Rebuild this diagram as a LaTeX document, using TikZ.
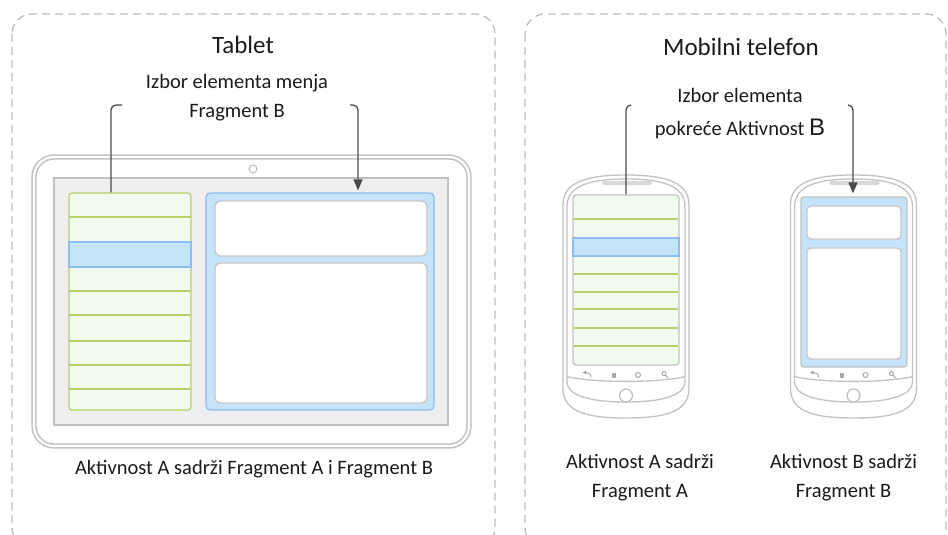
\documentclass[tikz,border=0pt]{standalone}
\usepackage{fontspec}
\setmainfont{Carlito}
\newfontfamily\arialfont{Liberation Sans}
\usetikzlibrary{arrows.meta}

\definecolor{dashgray}{HTML}{BDBDBD}
\definecolor{devline}{HTML}{C2C2C2}
\definecolor{bezelfill}{HTML}{EFEFEF}
\definecolor{bezelline}{HTML}{C0C0C0}
\definecolor{listfill}{HTML}{F1FAEE}
\definecolor{listline}{HTML}{B3D26A}
\definecolor{selfill}{HTML}{C5E3F9}
\definecolor{selline}{HTML}{8DBDF2}
\definecolor{cardline}{HTML}{C8C8C8}
\definecolor{conncol}{HTML}{4A4A4A}
\definecolor{txt}{HTML}{1A1A1A}
\definecolor{iconcol}{HTML}{A8A8A8}

\tikzset{
  groupbox/.style={draw=dashgray, line width=1.3pt, dash pattern=on 8pt off 5pt, rounded corners=20pt},
  title/.style={text=txt, font=\fontsize{25}{30}\selectfont, inner sep=0pt},
  label/.style={text=txt, font=\fontsize{20.5}{29}\selectfont, align=center, inner sep=0pt},
  conn/.style={draw=conncol, line width=1.3pt, rounded corners=5pt},
  connarrow/.style={conn, -{Triangle[length=11pt,width=9pt]}},
  tabletbody/.style={draw=devline, line width=1.6pt, double=white, double distance=2.2pt, rounded corners=20pt, fill=white},
  bezel/.style={draw=bezelline, line width=2pt, fill=bezelfill},
  listbox/.style={draw=listline, line width=1.2pt, fill=listfill, rounded corners=3pt},
  panebox/.style={draw=selline, line width=1.2pt, fill=selfill, rounded corners=4pt},
  selrow/.style={draw=selline, line width=1.2pt, fill=selfill},
  card/.style={draw=cardline, line width=1.4pt, fill=white, rounded corners=5pt},
  pscreen/.style={draw=bezelline, line width=1.2pt, rounded corners=3pt},
  rowline/.style={draw=listline, line width=1.2pt},
  phoneline/.style={draw=devline, line width=1.3pt},
  icon/.style={draw=iconcol, line width=1pt},
  phone/.pic={
    % outer shell
    \draw[phoneline] (-63,-92) .. controls (-63,-116) and (-35,-121.5) .. (0,-121.5)
      .. controls (35,-121.5) and (63,-116) .. (63,-92) -- (63,92)
      .. controls (63,117) and (35,121.5) .. (0,121.5)
      .. controls (-35,121.5) and (-63,117) .. (-63,92) -- cycle;
    % inner shell
    \draw[phoneline] (-59,-90) .. controls (-59,-112) and (-33,-117.5) .. (0,-117.5)
      .. controls (33,-117.5) and (59,-112) .. (59,-90) -- (59,85)
      .. controls (59,100) and (33,105.5) .. (0,105.5)
      .. controls (-33,105.5) and (-59,100) .. (-59,85) -- cycle;
    % chin edge
    \draw[phoneline] (-59,80) .. controls (-35,86.5) and (35,86.5) .. (59,80);
    % speaker
    \fill[gray!30, rounded corners=2pt] (-24,-115.5) rectangle (26,-111.5);
    % soft keys
    \draw[icon] (-35,81) .. controls (-35,77) and (-37,76) .. (-40,76);
    \fill[iconcol] (-40,74) -- (-43.5,76) -- (-40,78) -- cycle;
    \fill[iconcol] (-14,76) rectangle (-10,81);
    \draw[icon] (12,78.5) circle (2.5pt);
    \draw[icon] (38,77) circle (2pt);
    \draw[icon] (39.5,78.5) -- (42,81.5);
    % home button
    \draw[phoneline] (0,99) circle (6.5pt);
  }
}

\begin{document}
\begin{tikzpicture}[x=1pt,y=-1pt]
\useasboundingbox (0,0) rectangle (948,535);
\clip (0,0) rectangle (948,535);

% group frames
\draw[groupbox] (12,14) rectangle (495,548);
\draw[groupbox] (525,14) rectangle (946,548);

% ---------- tablet ----------
\node[title] (ttab) at (243,45) {Tablet};
\node[label] (tsel) at (237,97.5) {Izbor elementa menja\\Fragment B};

\node[tabletbody, minimum width=435pt, minimum height=289pt] (tablet) at (251.5,301.5) {};
\draw[draw=devline, line width=1.2pt] (253,169) circle (4pt);
\node[bezel, minimum width=394pt, minimum height=247pt] (tscreen) at (251,301.5) {};

\node[listbox, minimum width=122pt, minimum height=217pt] (listT) at (130,301.5) {};
\foreach \yy in {217,242,267,291,315,341,365,389}
  \draw[rowline] (69,\yy) -- (191,\yy);
\node[selrow, minimum width=122pt, minimum height=25pt] (rowT) at (130,254.5) {};

\node[panebox, minimum width=228pt, minimum height=217pt] (paneT) at (320,301.5) {};
\node[card, minimum width=212pt, minimum height=55pt] (cardT1) at (321,228.5) {};
\node[card, minimum width=212pt, minimum height=140pt] (cardT2) at (321,333) {};

\coordinate (hookTA) at (122,105);
\coordinate (hookTB) at (350,105);
\draw[conn] (hookTA) -| ([xshift=-19pt]listT.north);
\draw[connarrow, shorten >=2pt] (hookTB) -| ([xshift=38pt]paneT.north);

\node[label] (tcap) at (254,469) {Aktivnost A sadrži Fragment A i Fragment B};

% ---------- phones ----------
\node[title] (tmob) at (741,47) {Mobilni telefon};
\node[label, font=\fontsize{20.5}{33}\selectfont] (psel) at (740,113.5)
  {Izbor elementa\\pokreće Aktivnost {\arialfont\fontsize{24}{33}\selectfont B}};

\pic at (626,296.5) {phone};
\pic at (853.5,296.5) {phone};

% phone A: list of items
\node[pscreen, fill=listfill, minimum width=106pt, minimum height=170pt] (listP) at (626,280) {};
\foreach \yy in {219,274,292,309,328,346}
  \draw[rowline] (573.6,\yy) -- (678.4,\yy);
\node[selrow, minimum width=106pt, minimum height=18pt] (rowP) at (626,247) {};

% phone B: detail pane
\node[pscreen, fill=selfill, minimum width=106pt, minimum height=170pt] (paneP) at (854,282) {};
\node[card, minimum width=94pt, minimum height=33pt, rounded corners=4pt] (cardP1) at (854,222.5) {};
\node[card, minimum width=94pt, minimum height=111pt, rounded corners=4pt] (cardP2) at (854,303.5) {};

\coordinate (hookPA) at (631,105);
\coordinate (hookPB) at (848,105);
\draw[conn] (hookPA) -| (listP.north);
\draw[connarrow, shorten >=3pt] (hookPB) -| ([xshift=-1pt]paneP.north);

\node[label] (pcapA) at (640,477.5) {Aktivnost A sadrži\\Fragment A};
\node[label] (pcapB) at (843.5,477.5) {Aktivnost B sadrži\\Fragment B};
\end{tikzpicture}
\end{document}
